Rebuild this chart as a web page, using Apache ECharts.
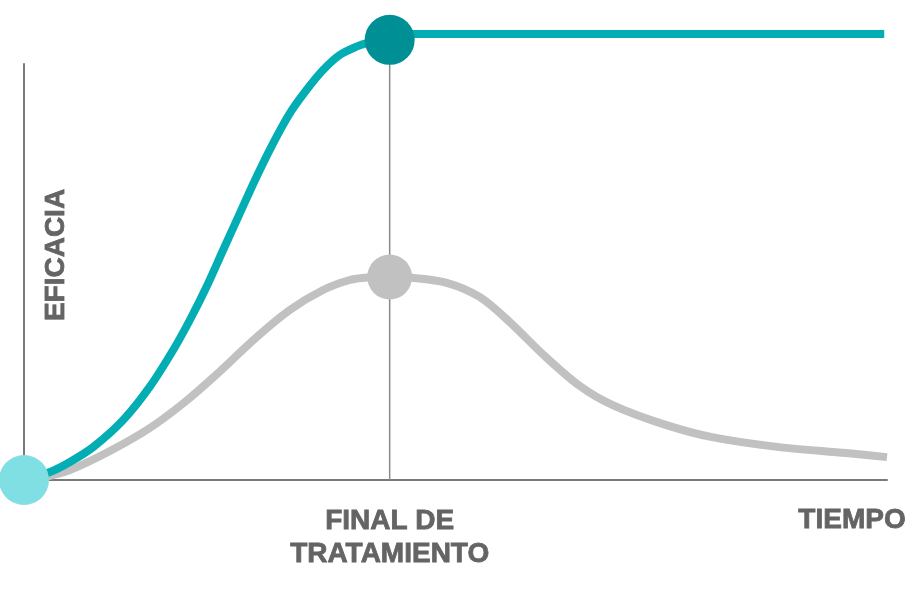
<!DOCTYPE html>
<html>
<head>
<meta charset="utf-8">
<script src="https://cdn.jsdelivr.net/npm/echarts@6/dist/echarts.min.js"></script>
<style>
  html, body { margin: 0; padding: 0; background: #ffffff; }
  #chart { width: 924px; height: 590px; }
</style>
</head>
<body>
<div id="chart"></div>
<script>
// ---- data (time in arbitrary units, efficacy in arbitrary units) ----
const treatmentEnd = 50;
const timeMax = 118;
const efficacyMax = 100;

const tealTime     = [0, 3.55, 6.28, 9.47, 13.56, 17.21, 20.4, 22.68, 24.96, 27.23, 29.51, 31.8, 34.06, 36.34, 38.62, 40.89, 43.17, 45.45, 47, 50, 53.42, 117.62];
const tealEfficacy = [0, 1.92, 4.33, 7.93, 14.42, 22.44, 31.25, 38.46, 46.47, 55.29, 64.1, 72.91, 80.94, 88.14, 93.75, 98.56, 102.16, 104.16, 105.05, 105.77, 107.2, 107.2];

const grayTime     = [0, 2.87, 6.28, 11.75, 17.21, 22, 26.09, 31.83, 36.34, 40.89, 44.54, 47, 50, 53.1, 57.8, 62.3, 66.4, 71.2, 76, 80.5, 87.3, 94.1, 103.3, 112.4, 118];
const grayEfficacy = [0, 0.72, 2.4, 6.97, 12.5, 18.75, 25, 34.38, 40.87, 45.67, 48.08, 48.68, 48.8, 48.6, 47.4, 44, 38, 29.8, 22.6, 18, 13.5, 10.3, 7.9, 6.5, 5.5];

const startPoint    = [0, 0];
const tealEndPoint  = [treatmentEnd, 105.8];
const grayPeakPoint = [treatmentEnd, 48.8];

const xTickLabels = { 50: 'FINAL DE\nTRATAMIENTO' };
const yAxisTitle = 'EFICACIA';
const xAxisTitle = 'TIEMPO';

const zip = (a, b) => a.map((v, i) => [v, b[i]]);

const labelFont = '"Liberation Sans", Arial, sans-serif';
const textColor = '#646464';

const chart = echarts.init(document.getElementById('chart'), null, { renderer: 'canvas' });
chart.setOption({
  animation: false,
  backgroundColor: '#ffffff',
  grid: { left: 24, right: 37, top: 64, bottom: 110, containLabel: false },
  xAxis: {
    type: 'value', min: 0, max: timeMax,
    axisLine: { show: true, lineStyle: { color: '#7a7a7a', width: 2 } },
    axisTick: { show: false },
    splitLine: { show: false },
    axisLabel: {
      customValues: [treatmentEnd],
      formatter: v => xTickLabels[v] || '',
      margin: 25,
      fontFamily: labelFont, fontWeight: 'bold', fontSize: 28,
      lineHeight: 33, color: textColor, align: 'center',
      textBorderColor: textColor, textBorderWidth: 0.8
    }
  },
  yAxis: {
    type: 'value', min: 0, max: efficacyMax,
    axisLine: { show: true, lineStyle: { color: '#7a7a7a', width: 2 } },
    axisTick: { show: false },
    axisLabel: { show: false },
    splitLine: { show: false }
  },
  graphic: [
    {
      type: 'text', x: 56, y: 255, rotation: Math.PI / 2,
      style: { text: yAxisTitle, font: 'bold 28px ' + labelFont, fill: textColor, stroke: textColor, lineWidth: 0.8, align: 'center', verticalAlign: 'middle' }
    },
    {
      type: 'text', x: 852, y: 520,
      style: { text: xAxisTitle, font: 'bold 28px ' + labelFont, fill: textColor, stroke: textColor, lineWidth: 0.8, align: 'center', verticalAlign: 'middle' }
    }
  ],
  series: [
    {
      type: 'line', data: [[treatmentEnd, 0], tealEndPoint],
      symbol: 'none', clip: false, silent: true,
      lineStyle: { color: '#8a8a8a', width: 1.5 }, z: 1
    },
    {
      type: 'line', data: zip(grayTime, grayEfficacy),
      symbol: 'none', smooth: 0.3, clip: false,
      lineStyle: { color: '#c0c1c0', width: 8 }, z: 2
    },
    {
      type: 'line', data: zip(tealTime, tealEfficacy),
      symbol: 'none', smooth: 0.3, clip: false,
      lineStyle: { color: '#03adb4', width: 8 }, z: 3
    },
    {
      type: 'scatter', data: [grayPeakPoint], symbolSize: 45, clip: false,
      itemStyle: { color: '#c0c1c0', opacity: 1 }, z: 4
    },
    {
      type: 'scatter', data: [tealEndPoint], symbolSize: 50, clip: false,
      itemStyle: { color: '#008f94', opacity: 1 }, z: 4
    },
    {
      type: 'scatter', data: [startPoint], symbolSize: 50, clip: false,
      itemStyle: { color: '#80dfe3', opacity: 1 }, z: 5
    }
  ]
});
</script>
</body>
</html>
